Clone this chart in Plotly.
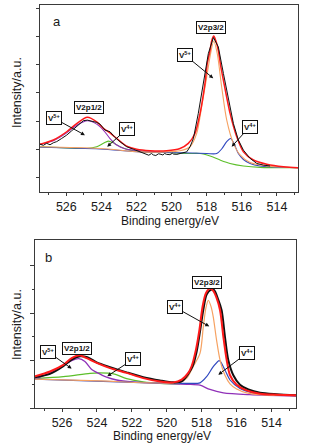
import plotly.graph_objects as go

# ---------------- Panel a data (binding energy eV, intensity a.u.) ----------------
a_data_x = [527.50, 527.31, 527.12, 526.93, 526.74, 526.55, 526.27, 525.98, 525.70, 525.41, 525.22, 525.03,
            524.80, 524.61, 524.46, 524.27, 524.08, 523.80, 523.51, 523.23, 522.94, 522.56, 522.18, 521.80,
            521.42, 521.30, 521.15, 521.04, 520.90, 520.75, 520.66, 520.50, 520.40, 520.28, 520.10, 519.95,
            519.90, 519.70, 519.52, 519.14, 518.95, 518.76, 518.48, 518.19, 517.91, 517.62, 517.34, 517.05,
            516.77, 516.48, 516.20, 515.91, 515.53, 515.15, 514.77, 514.39]
a_data_y = [1.69, 1.65, 1.72, 1.67, 1.74, 1.78, 1.89, 2.01, 2.16, 2.33, 2.42, 2.52,
            2.54, 2.52, 2.48, 2.46, 2.40, 2.19, 2.13, 1.93, 1.78, 1.60, 1.51, 1.42,
            1.34, 1.30, 1.36, 1.31, 1.29, 1.35, 1.34, 1.31, 1.36, 1.33, 1.32, 1.37,
            1.34, 1.33, 1.36, 1.42, 1.60, 1.89, 2.78, 3.84, 4.89, 5.46, 5.13, 4.19,
            3.25, 2.42, 1.84, 1.48, 1.19, 1.01, 0.95, 0.92]

a_env_x = [527.50, 526.74, 525.98, 525.41, 524.80, 524.27, 523.89, 523.51, 523.13, 522.56, 521.99, 521.23,
           520.28, 519.52, 519.05, 518.67, 518.38, 518.10, 517.97, 517.81, 517.72, 517.60, 517.49, 517.34,
           517.21, 517.05, 516.67, 516.29, 515.91, 515.34, 514.58, 513.63, 512.78]
a_env_y = [1.69, 1.84, 2.13, 2.42, 2.64, 2.48, 2.25, 2.09, 1.89, 1.62, 1.51, 1.46,
           1.46, 1.54, 1.72, 2.07, 2.78, 3.84, 4.54, 5.01, 5.34, 5.51, 5.36, 5.01,
           4.48, 3.95, 2.78, 1.95, 1.42, 1.13, 0.98, 0.89, 0.86]

a_v5_32_x = [527.50, 524.08, 521.80, 520.28, 519.52, 518.95, 518.57, 518.29, 518.00, 517.78, 517.60, 517.40,
             517.15, 516.86, 516.48, 516.10, 515.53, 514.58, 512.78]
a_v5_32_y = [1.60, 1.54, 1.42, 1.42, 1.46, 1.60, 2.07, 3.01, 4.07, 4.89, 5.34, 4.89,
             3.72, 2.54, 1.72, 1.31, 1.04, 0.92, 0.86]

a_v5_12_x = [527.50, 526.74, 525.98, 525.41, 524.80, 524.27, 523.89, 523.51, 523.13, 522.56, 521.80, 520.66]
a_v5_12_y = [1.69, 1.81, 2.09, 2.36, 2.52, 2.40, 2.19, 1.89, 1.66, 1.51, 1.46, 1.42]

a_v4_12_x = [527.50, 525.98, 524.84, 524.27, 523.89, 523.61, 523.32, 522.94, 522.37, 521.61, 520.28, 519.14,
             518.38, 517.81, 517.24, 516.67, 515.91, 514.96, 512.78]
a_v4_12_y = [1.60, 1.56, 1.54, 1.60, 1.72, 1.80, 1.74, 1.60, 1.48, 1.42, 1.40, 1.36,
             1.36, 1.27, 1.13, 1.01, 0.92, 0.87, 0.86]

a_v4_32_x = [527.50, 524.08, 521.80, 519.52, 518.00, 517.43, 517.15, 516.86, 516.64, 516.45, 516.20, 515.91,
             515.53, 514.96, 512.78]
a_v4_32_y = [1.58, 1.52, 1.42, 1.39, 1.36, 1.36, 1.52, 1.78, 1.89, 1.72, 1.36, 1.15,
             1.01, 0.92, 0.86]

# ---------------- Panel b data ----------------
b_data_x = [527.55, 526.69, 525.93, 525.45, 524.97, 524.55, 524.02, 523.25, 522.30, 521.35, 520.39, 519.63,
            519.15, 518.77, 518.52, 518.29, 518.10, 517.91, 517.72, 517.49, 517.30, 517.05, 516.86, 516.67,
            516.48, 516.19, 515.81, 515.33, 514.66, 513.71, 512.60]
b_data_y = [0.65, 0.72, 0.88, 1.02, 1.09, 1.07, 0.96, 0.86, 0.75, 0.65, 0.58, 0.54,
            0.56, 0.72, 0.88, 1.19, 1.61, 2.07, 2.39, 2.49, 2.49, 2.28, 2.06, 1.50,
            1.01, 0.69, 0.49, 0.39, 0.32, 0.29, 0.27]

b_env_x = [527.55, 526.69, 525.93, 525.45, 525.01, 524.59, 524.02, 523.25, 522.30, 521.35, 520.39, 519.63,
           519.15, 518.77, 518.58, 518.33, 518.13, 517.95, 517.76, 517.53, 517.34, 517.15, 516.95, 516.76,
           516.57, 516.38, 516.00, 515.43, 514.66, 513.71, 512.60]
b_env_y = [0.67, 0.77, 0.91, 1.05, 1.11, 1.05, 0.95, 0.84, 0.74, 0.63, 0.56, 0.54,
           0.60, 0.74, 0.88, 1.23, 1.65, 2.14, 2.42, 2.52, 2.47, 2.32, 2.06, 1.50,
           1.01, 0.69, 0.49, 0.37, 0.30, 0.28, 0.27]

b_main_x = [527.55, 523.83, 520.96, 519.25, 518.86, 518.48, 518.10, 517.91, 517.76, 517.62, 517.47, 517.34,
            517.15, 516.95, 516.67, 516.38, 516.00, 515.43, 514.66, 512.60]
b_main_y = [0.61, 0.57, 0.53, 0.54, 0.63, 0.88, 1.15, 1.71, 2.11, 2.27, 2.14, 1.92,
            1.43, 1.01, 0.69, 0.51, 0.40, 0.32, 0.28, 0.26]

b_v4_32_x = [527.55, 521.92, 518.86, 518.10, 517.72, 517.34, 516.99, 516.67, 516.38, 515.81, 515.05, 512.60]
b_v4_32_y = [0.61, 0.54, 0.52, 0.53, 0.66, 0.87, 1.00, 0.80, 0.59, 0.41, 0.32, 0.27]

b_v5_12_x = [527.55, 526.69, 525.93, 525.45, 525.05, 524.69, 524.30, 524.02, 523.45, 522.87, 521.92, 520.96,
             518.86, 518.10, 517.53, 516.76, 515.24, 512.60]
b_v5_12_y = [0.61, 0.74, 0.89, 1.00, 1.04, 0.98, 0.81, 0.75, 0.65, 0.59, 0.55, 0.53,
             0.50, 0.48, 0.39, 0.32, 0.28, 0.25]

b_v4_12_x = [527.55, 525.93, 524.40, 523.83, 523.06, 522.30, 521.35, 520.39, 519.25]
b_v4_12_y = [0.62, 0.66, 0.73, 0.74, 0.72, 0.62, 0.55, 0.52, 0.51]

x_tick_vals = [526, 524, 522, 520, 518, 516, 514]
x_tick_text = ["526", "524", "522", "520", "518", "516", "514"]
a_ytick_vals = [0.5, 1.5, 2.5, 3.5, 4.5, 5.5, 6.5]
b_ytick_vals = [0, 1, 2, 3]
b_yminor_vals = [0.5, 1.5, 2.5]

RED = "#ff1a1a"
ORANGE = "#f6a262"
PURPLE = "#9030b8"
GREEN = "#5cbf2a"
BLUE = "#3048c0"
FONT = "Liberation Sans, Arial, sans-serif"

fig = go.Figure()

def add(x, y, color, width, xa, ya, shape="spline"):
    fig.add_trace(go.Scatter(x=x, y=y, mode="lines", xaxis=xa, yaxis=ya,
                             line=dict(color=color, width=width, shape=shape, smoothing=0.8),
                             hoverinfo="skip", showlegend=False))

# panel a
add(a_v4_12_x, a_v4_12_y, GREEN, 1.1, "x", "y")
add(a_v4_32_x, a_v4_32_y, BLUE, 1.1, "x", "y")
add(a_v5_12_x, a_v5_12_y, PURPLE, 1.1, "x", "y")
add(a_v5_32_x, a_v5_32_y, ORANGE, 1.1, "x", "y")
add(a_env_x, a_env_y, RED, 1.5, "x", "y")
add(a_data_x, a_data_y, "#111111", 1.0, "x", "y", shape="linear")

# panel b
add(b_v4_12_x, b_v4_12_y, GREEN, 1.2, "x2", "y2")
add(b_v5_12_x, b_v5_12_y, PURPLE, 1.3, "x2", "y2")
add(b_v4_32_x, b_v4_32_y, BLUE, 1.2, "x2", "y2")
add(b_main_x, b_main_y, ORANGE, 1.2, "x2", "y2")
add(b_data_x, b_data_y, "#111111", 2.0, "x2", "y2")
add(b_env_x, b_env_y, RED, 2.0, "x2", "y2")

axis_common = dict(showline=True, linecolor="#3a3a3a", linewidth=1, mirror=True,
                   showgrid=False, zeroline=False, ticks="outside", tickcolor="#3a3a3a")

fig.update_layout(
    width=320, height=446, margin=dict(l=0, r=0, t=0, b=0),
    paper_bgcolor="white", plot_bgcolor="white",
    font=dict(family=FONT, color="#1a1a1a"),
    xaxis=dict(domain=[40/320, 298/320], anchor="y", range=[527.5, 512.8],
               tickvals=x_tick_vals, ticktext=x_tick_text, ticklen=3,
               tickfont=dict(size=12.5, family=FONT),
               minor=dict(dtick=1, tick0=0, ticklen=2, ticks="outside", tickcolor="#3a3a3a"),
               **axis_common),
    yaxis=dict(domain=[1-192/446, 1-5/446], anchor="x", range=[0, 6.61],
               tickvals=a_ytick_vals, showticklabels=False, ticklen=3, **axis_common),
    xaxis2=dict(domain=[35/320, 296/320], anchor="y2", range=[527.55, 512.6],
                tickvals=x_tick_vals, ticktext=x_tick_text, ticklen=3,
                tickfont=dict(size=12.5, family=FONT),
                minor=dict(dtick=1, tick0=0, ticklen=2, ticks="outside", tickcolor="#3a3a3a"),
                **axis_common),
    yaxis2=dict(domain=[1-408/446, 1-240/446], anchor="x2", range=[0, 3.54],
                tickvals=b_ytick_vals, showticklabels=False, ticklen=4,
                minor=dict(tickvals=b_yminor_vals, ticklen=2, ticks="outside", tickcolor="#3a3a3a"),
                **axis_common),
)

anns = []
# axis titles
for ytxt in [1-93/446, 1-325/446]:
    anns.append(dict(text="Intensity/a.u.", xref="paper", yref="paper", x=17/320, y=ytxt,
                     showarrow=False, textangle=-90, font=dict(size=12.5, family=FONT),
                     xanchor="center", yanchor="middle"))
for ytxt, xt in [(1-221/446, 170/320), (1-436/446, 162/320)]:
    anns.append(dict(text="Binding energy/eV", xref="paper", yref="paper", x=xt, y=ytxt,
                     showarrow=False, font=dict(size=12, family=FONT),
                     xanchor="center", yanchor="middle"))
# panel letters
anns.append(dict(text="a", x=526.53, y=6.02, xref="x", yref="y", showarrow=False, font=dict(size=13, family=FONT)))
anns.append(dict(text="b", x=526.75, y=3.17, xref="x2", yref="y2", showarrow=False, font=dict(size=13, family=FONT)))

box = dict(bordercolor="#111111", borderwidth=1, borderpad=1, bgcolor="white")
lab_font = dict(size=8, family=FONT, color="#111111")

def label(text, x, y, xr, yr):
    anns.append(dict(text="<b>%s</b>" % text, x=x, y=y, xref=xr, yref=yr, showarrow=False,
                     font=lab_font, **box))

def arrowlab(text, x, y, ax, ay, xr, yr):
    anns.append(dict(text="<b>%s</b>" % text, x=x, y=y, xref=xr, yref=yr, showarrow=True,
                     ax=ax, ay=ay, arrowhead=2, arrowsize=0.8, arrowwidth=1, arrowcolor="#111111",
                     font=lab_font, **box))

# panel a labels
label("V2p3/2", 517.77, 5.82, "x", "y")
label("V2p1/2", 524.69, 2.99, "x", "y")
arrowlab("V<sup>5+</sup>", 517.63, 4.02, -28, -23, "x", "y")
arrowlab("V<sup>4+</sup>", 516.58, 1.60, 18, -20, "x", "y")
arrowlab("V<sup>5+</sup>", 524.94, 2.01, -31, -17, "x", "y")
arrowlab("V<sup>4+</sup>", 523.67, 1.60, 20, -18, "x", "y")

# panel b labels
label("V2p3/2", 517.68, 2.65, "x2", "y2")
label("V2p1/2", 525.16, 1.25, "x2", "y2")
arrowlab("V<sup>4+</sup>", 517.57, 1.72, -34, -19, "x2", "y2")
arrowlab("V<sup>4+</sup>", 517.05, 0.70, 29, -22, "x2", "y2")
arrowlab("V<sup>5+</sup>", 525.45, 0.83, -24, -17, "x2", "y2")
arrowlab("V<sup>4+</sup>", 523.41, 0.67, 26, -17, "x2", "y2")

fig.update_layout(annotations=anns)
fig.write_html("out.html", config={"displayModeBar": False},
               post_script="document.body.style.margin='0';document.body.style.padding='0';")
